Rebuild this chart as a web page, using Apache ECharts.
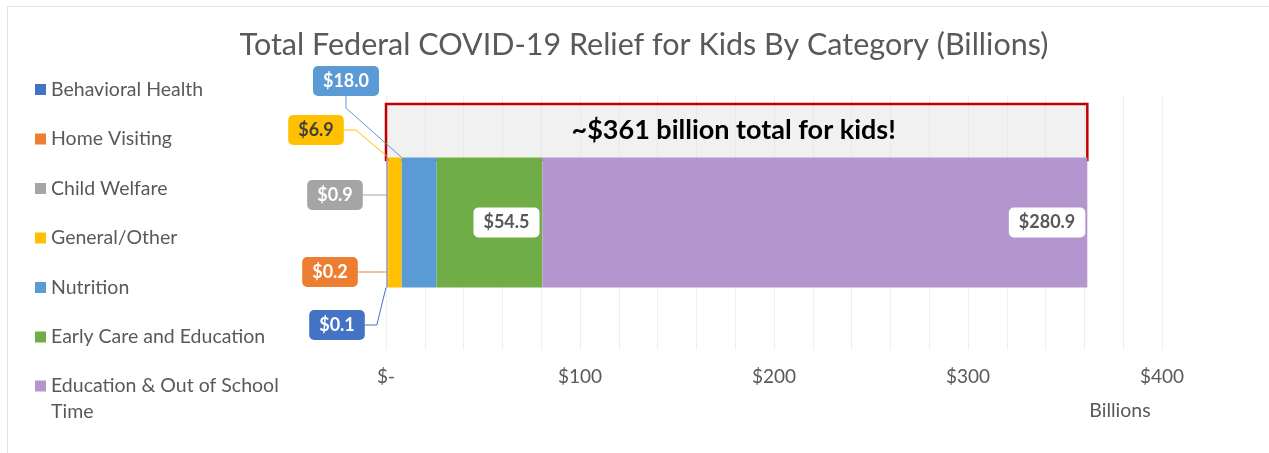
<!DOCTYPE html>
<html>
<head>
<meta charset="utf-8">
<script src="https://cdn.jsdelivr.net/npm/echarts@6/dist/echarts.min.js"></script>
<style>
  html, body { margin: 0; padding: 0; background: #fff; }
  #chart { width: 1269px; height: 453px; }
</style>
</head>
<body>
<div id="chart"></div>
<script>
  const rowName = ['Kids'];
  const categories = ['Behavioral Health', 'Home Visiting', 'Child Welfare', 'General/Other',
    'Nutrition', 'Early Care and Education', 'Education & Out of School Time'];
  const values = [0.1, 0.2, 0.9, 6.9, 18.0, 54.5, 280.9];
  const tickLabels = ['$-', '$100', '$200', '$300', '$400'];
  const totalLabel = '~$361 billion total for kids!';

  const colors = ['#4472c4', '#ed7d31', '#a5a5a5', '#ffc000', '#5b9bd5', '#70ad47', '#b496ce'];
  const FONT = 'Lato';
  const GREY = '#595959';
  // where the callout boxes for the thin slices sit (px)
  const callouts = [[337, 325], [330, 272], [335, 195], [316, 130], [346, 81]];

  const total = values.reduce((a, b) => a + b, 0);

  const chart = echarts.init(document.getElementById('chart'));

  const series = categories.map((name, i) => {
    const s = {
      name: name,
      type: 'bar',
      stack: 'total',
      barWidth: 130,
      data: [values[i]],
      itemStyle: { color: colors[i] },
      emphasis: { disabled: true },
      label: {
        show: true,
        formatter: p => '$' + p.value.toFixed(1),
        fontFamily: FONT,
        fontSize: 18,
        fontWeight: 'bold',
        padding: [6, 10],
        borderRadius: 5
      }
    };
    if (i < callouts.length) {
      s.label.position = 'inside';
      s.label.align = 'center';
      s.label.verticalAlign = 'middle';
      s.label.color = i === 3 ? '#404040' : '#fff';
      s.label.backgroundColor = colors[i];
      s.labelLayout = { x: callouts[i][0], y: callouts[i][1], align: 'center', verticalAlign: 'middle' };
      s.labelLine = { show: true, length2: 12, lineStyle: { color: colors[i], width: 1 } };
    } else {
      s.label.color = GREY;
      s.label.backgroundColor = '#fff';
      if (i === 5) {
        s.label.position = 'inside';
        s.label.offset = [17, 0];
      } else {
        s.label.position = 'insideRight';
        s.label.distance = 2;
      }
    }
    return s;
  });

  // the red "total" box above the bar
  series[series.length - 1].markArea = {
    silent: true,
    itemStyle: { color: 'rgba(225,225,225,0.45)', borderColor: '#c00000', borderWidth: 2.5 },
    label: {
      show: true,
      position: 'inside',
      formatter: totalLabel,
      fontFamily: FONT,
      fontWeight: 'bold',
      fontSize: 27,
      color: '#000',
      offset: [-3, -2]
    },
    data: [[{ xAxis: 0, yAxis: rowName[0], y: 104 }, { xAxis: total, yAxis: rowName[0], y: 160 }]]
  };

  const option = {
    animation: false,
    backgroundColor: '#fff',
    title: {
      text: 'Total Federal COVID-19 Relief for Kids By Category (Billions)',
      left: 639,
      textAlign: 'center',
      top: 25,
      textStyle: { fontFamily: FONT, fontSize: 30.5, fontWeight: 'normal', color: GREY }
    },
    legend: [{
      orient: 'vertical',
      left: 35,
      top: 79,
      padding: 0,
      itemGap: 28.5,
      itemWidth: 11,
      itemHeight: 11,
      icon: 'rect',
      selectedMode: false,
      data: categories.slice(0, 6),
      textStyle: { fontFamily: FONT, fontSize: 19.5, color: GREY, lineHeight: 21 }
    }, {
      orient: 'vertical',
      left: 35,
      top: 347,
      padding: 0,
      itemWidth: 11,
      itemHeight: 11,
      icon: 'rect',
      selectedMode: false,
      data: categories.slice(6),
      // blank first line so the swatch lines up with the first text line
      formatter: name => '\n' + name.replace(' Time', '\nTime'),
      textStyle: { fontFamily: FONT, fontSize: 19.5, color: GREY, lineHeight: 26 }
    }],
    grid: { left: 386, right: 107, top: 95, bottom: 103 },
    xAxis: {
      type: 'value',
      min: 0,
      max: 400,
      interval: 100,
      name: 'Billions',
      nameLocation: 'end',
      nameGap: 0,
      nameTextStyle: {
        fontFamily: FONT, fontSize: 19.5, color: GREY,
        align: 'center', verticalAlign: 'top', padding: [51, 84, 0, 0]
      },
      axisLine: { show: false },
      axisTick: { show: false },
      axisLabel: {
        fontFamily: FONT, fontSize: 19, color: GREY, margin: 17,
        formatter: v => tickLabels[Math.round(v / 100)]
      },
      splitLine: { lineStyle: { color: '#efefef' } },
      minorTick: { show: false, splitNumber: 5 },
      minorSplitLine: { show: true, lineStyle: { color: '#efefef' } }
    },
    yAxis: {
      type: 'category',
      data: rowName,
      axisLine: { show: false },
      axisTick: { show: false },
      axisLabel: { show: false }
    },
    graphic: [{
      type: 'rect',
      silent: true,
      shape: { x: 7.5, y: 6.5, width: 1300, height: 500 },
      style: { fill: 'none', stroke: '#e3e3e3', lineWidth: 1 }
    }],
    series: series
  };

  chart.setOption(option);
</script>
</body>
</html>
